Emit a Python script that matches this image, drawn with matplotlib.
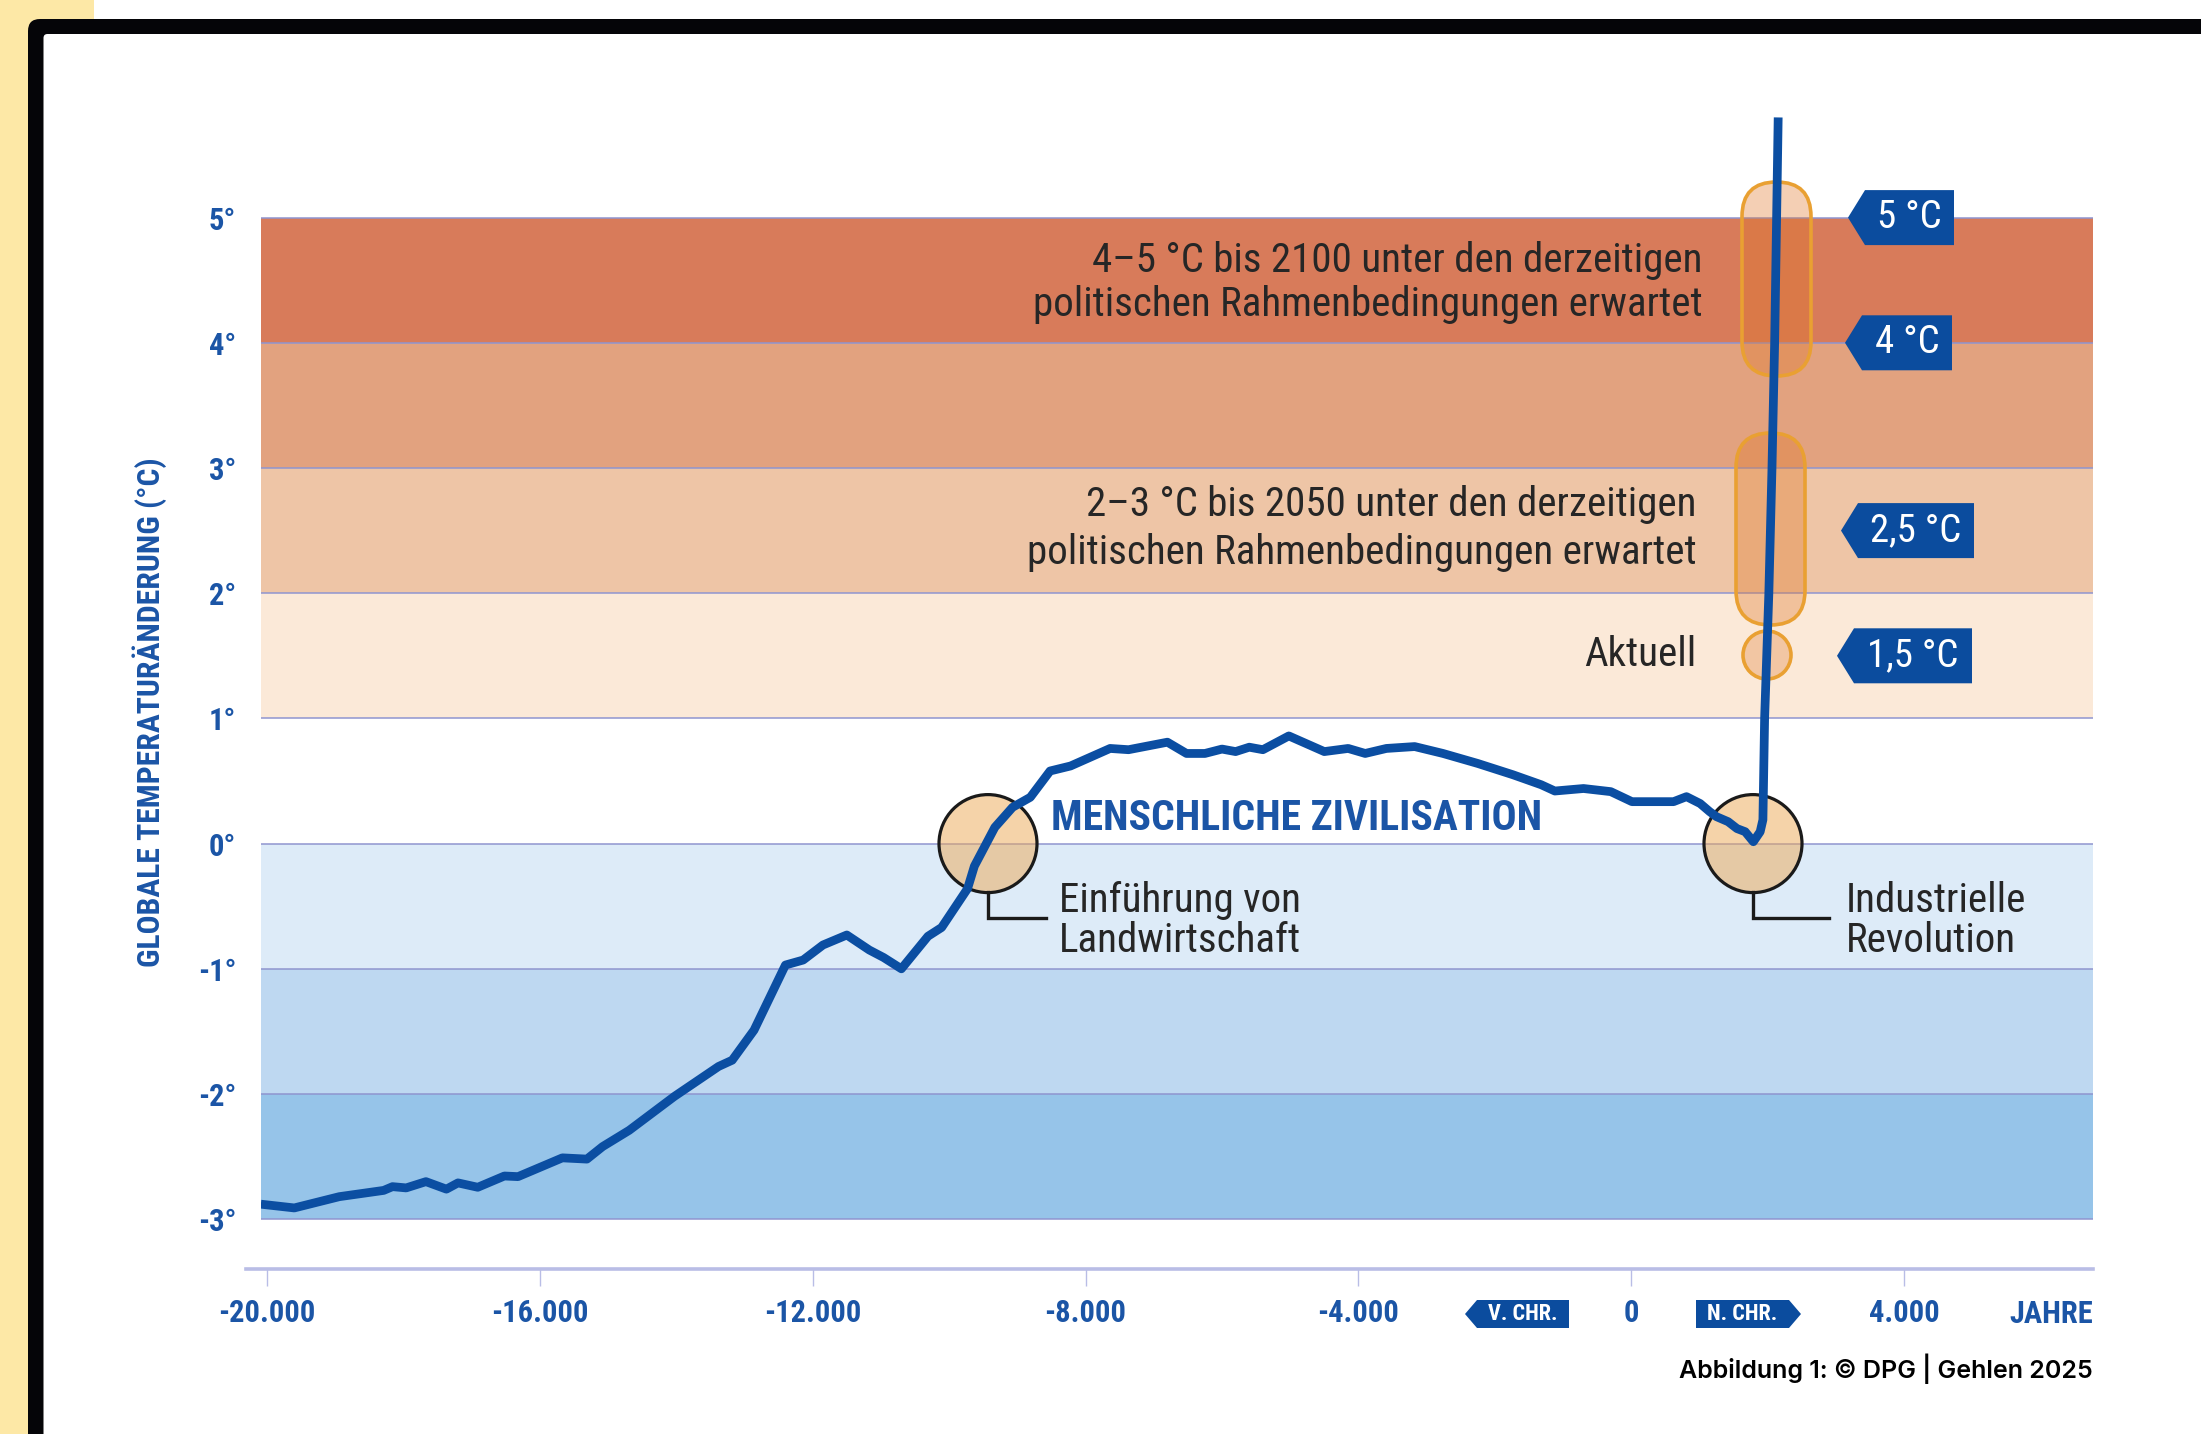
import matplotlib.pyplot as plt
from matplotlib.patches import Ellipse, FancyBboxPatch, Polygon, Rectangle
from matplotlib.transforms import IdentityTransform

COND = ['Roboto Condensed', 'Liberation Sans Narrow', 'Roboto', 'DejaVu Sans']
plt.rcParams['font.family'] = COND

# temperature curve (years, deg C relative to pre-industrial)
years = [-20090, -19600, -18940, -18290, -18160, -17960, -17670, -17370, -17200, -16910,
         -16520, -16320, -15670, -15310, -15080, -14690, -14030, -13380, -13180, -12860,
         -12400, -12140, -11850, -11500, -11170, -10960, -10700, -10310, -10110, -9730,
         -9630, -9330, -9070, -8810, -8520, -8220, -7640, -7370, -6800, -6520,
         -6250, -6000, -5800, -5600, -5400, -5020, -4500, -4150, -3900, -3590,
         -3175, -2760, -2250, -1735, -1320, -1120, -700, -300, 10, 280,
         620, 810, 1010, 1150, 1250, 1420, 1550, 1670, 1790, 1890,
         1930, 1955, 2017, 2063, 2102, 2154]
temps = [-2.88, -2.91, -2.82, -2.77, -2.74, -2.75, -2.70, -2.76, -2.71, -2.745,
         -2.655, -2.66, -2.51, -2.52, -2.42, -2.29, -2.02, -1.78, -1.73, -1.49,
         -0.97, -0.93, -0.81, -0.73, -0.85, -0.91, -1.00, -0.74, -0.67, -0.36,
         -0.18, 0.13, 0.29, 0.37, 0.58, 0.62, 0.76, 0.75, 0.81, 0.72,
         0.72, 0.755, 0.735, 0.77, 0.75, 0.86, 0.735, 0.76, 0.72, 0.76,
         0.775, 0.72, 0.64, 0.55, 0.47, 0.42, 0.44, 0.415, 0.335, 0.335,
         0.335, 0.375, 0.32, 0.255, 0.215, 0.175, 0.12, 0.095, 0.015, 0.095,
         0.19, 1.0, 2.0, 3.0, 4.0, 5.8]

band_edges = [-3, -2, -1, 0, 1, 2, 3, 4, 5]
band_colors = ['#96c4e9', '#bed8f1', '#ddebf8', '#ffffff',
               '#fbe9d8', '#eec5a6', '#e2a27f', '#d87b5a']

ytick_vals = [-3, -2, -1, 0, 1, 2, 3, 4, 5]
ytick_labels = ['-3°', '-2°', '-1°', '0°', '1°', '2°', '3°', '4°', '5°']
xtick_vals = [-20000, -16000, -12000, -8000, -4000, 0, 4000]
xtick_labels = ['-20.000', '-16.000', '-12.000', '-8.000', '-4.000', '0', '4.000']

tag_levels = [5, 4, 2.5, 1.5]
tag_labels = ['5 °C', '4 °C', '2,5 °C', '1,5 °C']

# ---- layout helpers (reference pixel grid -> data) ----
W, H = 2201, 1434
YR0_PX, YR_PER_PX = 267, 14.66
T0_PX, PX_PER_DEG = 843.6, 125.2


def dx(px):
    return -20000 + (px - YR0_PX) * YR_PER_PX


def dy(py):
    return (T0_PX - py) / PX_PER_DEG


def pts(lst):
    return [(dx(a), dy(b)) for a, b in lst]


BLUE = '#1b55a6'
LINE = '#0b4ea2'
TAG = '#0b4c9e'
DARK = '#262626'
ORANGE = '#e9a032'

L, R, T, B = 261, 2093, 104.9, 1269.3

fig = plt.figure(figsize=(W / 100, H / 100), dpi=100)
fig.patch.set_facecolor('white')

# page decoration: yellow strip and black frame
fig.add_artist(Rectangle((0, 0), 94, H, color='#fde8a6', lw=0,
                         transform=IdentityTransform(), zorder=-30))
fig.add_artist(FancyBboxPatch((28, -200), 2500, H - 19 + 200,
                              boxstyle='round,pad=0,rounding_size=12',
                              fc='#050508', ec='none',
                              transform=IdentityTransform(), zorder=-20))
fig.add_artist(FancyBboxPatch((43.5, -200), 2500, H - 34 + 200,
                              boxstyle='round,pad=0,rounding_size=4',
                              fc='white', ec='none',
                              transform=IdentityTransform(), zorder=-10))

ax = fig.add_axes([L / W, 1 - B / H, (R - L) / W, (B - T) / H])
ax.set_xlim(dx(L), dx(R))
ax.set_ylim(dy(B), dy(T))
ax.patch.set_visible(False)
for s in ax.spines.values():
    s.set_visible(False)

# temperature bands
for lo, hi, c in zip(band_edges[:-1], band_edges[1:], band_colors):
    ax.axhspan(lo, hi, color=c, lw=0, zorder=0)
for e in band_edges:
    ax.axhline(e, color='#8f95cf', lw=1.1, zorder=1)

# x axis line
ax.plot([dx(246), dx(R)], [dy(B), dy(B)], color='#b9bde6', lw=2.6,
        clip_on=False, zorder=2)

ax.set_xticks(xtick_vals, xtick_labels)
ax.tick_params(axis='x', length=12, width=1, color='#b9bde6', pad=9,
               labelsize=22, labelcolor=BLUE)
ax.set_yticks(ytick_vals, ytick_labels)
ax.tick_params(axis='y', length=0, pad=18, labelsize=22, labelcolor=BLUE)
for t in ax.get_xticklabels() + ax.get_yticklabels():
    t.set_fontweight('bold')

ax.text(dx(R), dy(1314), 'JAHRE', ha='right', va='center', fontsize=22,
        fontweight='bold', color=BLUE, clip_on=False)

# V. CHR. / N. CHR. markers on the time axis
ax.add_patch(Polygon(pts([(1465, 1314), (1477, 1300), (1569, 1300),
                          (1569, 1328), (1477, 1328)]),
                     fc=TAG, ec='none', clip_on=False, zorder=3))
ax.add_patch(Polygon(pts([(1696, 1300), (1789, 1300), (1801, 1314),
                          (1789, 1328), (1696, 1328)]),
                     fc=TAG, ec='none', clip_on=False, zorder=3))
ax.text(dx(1523), dy(1314), 'V. CHR.', ha='center', va='center',
        fontsize=16, fontweight='bold', color='white', clip_on=False, zorder=4)
ax.text(dx(1742), dy(1314), 'N. CHR.', ha='center', va='center',
        fontsize=16, fontweight='bold', color='white', clip_on=False, zorder=4)

ax.text(dx(150), dy(712), 'GLOBALE TEMPERATURÄNDERUNG (°C)', rotation=90,
        ha='center', va='center', fontsize=22.8, fontweight='bold',
        color=BLUE, clip_on=False)

# orange capsules around the projections
asp = (1 / PX_PER_DEG) / YR_PER_PX
for x0, x1, y0, y1 in [(1742, 1811, 182, 376), (1736, 1805, 433, 625)]:
    r = (x1 - x0) / 2 * YR_PER_PX
    ax.add_patch(FancyBboxPatch((dx(x0), dy(y1)), dx(x1) - dx(x0), dy(y0) - dy(y1),
                                boxstyle=f'round,pad=0,rounding_size={r}',
                                mutation_aspect=asp, fc=(0.88, 0.47, 0.16, 0.35),
                                ec=ORANGE, lw=2.6, zorder=4))
ax.add_patch(Ellipse((dx(1767), dy(655)), 2 * 24 * YR_PER_PX, 2 * 24 / PX_PER_DEG,
                     fc=(0.88, 0.47, 0.16, 0.3), ec=ORANGE, lw=2.6, zorder=4))

# black circles: agriculture and industrial revolution
for cx in [988, 1753]:
    ax.add_patch(Ellipse((dx(cx), 0), 2 * 49 * YR_PER_PX, 2 * 49 / PX_PER_DEG,
                         fc=(0.93, 0.66, 0.33, 0.5), ec='#1a1a1a', lw=2.3, zorder=4))
    ax.plot([dx(cx), dx(cx), dx(cx + 58 + (cx > 1500) * 18)],
            [dy(892), dy(918), dy(918)], color='#1a1a1a', lw=2.4, zorder=4,
            solid_joinstyle='miter')

# the temperature curve
ax.plot(years, temps, color=LINE, lw=6.3, solid_joinstyle='round',
        solid_capstyle='butt', zorder=6)

# temperature tags on the right
for lvl, lab, tip, right in zip(tag_levels, tag_labels,
                                [1848, 1845, 1841, 1837], [1954, 1952, 1974, 1972]):
    yc = T0_PX - lvl * PX_PER_DEG
    ax.add_patch(Polygon(pts([(tip, yc), (tip + 17, yc - 27.5), (right, yc - 27.5),
                              (right, yc + 27.5), (tip + 17, yc + 27.5)]),
                         fc=TAG, ec='none', zorder=5))
    ax.text(dx((tip + 17 + right) / 2), lvl, lab, ha='center', va='center',
            fontsize=28, color='white', zorder=6)

# explanatory texts
txt = dict(ha='right', va='center', fontsize=29.5, color=DARK)
ax.text(dx(1703), dy(260), '4–5 °C bis 2100 unter den derzeitigen', **txt)
ax.text(dx(1703), dy(305), 'politischen Rahmenbedingungen erwartet', **txt)
ax.text(dx(1697), dy(505), '2–3 °C bis 2050 unter den derzeitigen', **txt)
ax.text(dx(1697), dy(552), 'politischen Rahmenbedingungen erwartet', **txt)
ax.text(dx(1696), dy(654), 'Aktuell', **txt)

ax.text(dx(1051), dy(818), 'MENSCHLICHE ZIVILISATION', ha='left', va='center',
        fontsize=30, fontweight='bold', color=BLUE, zorder=5)

lab = dict(ha='left', va='center', fontsize=29.5, color=DARK)
ax.text(dx(1059), dy(900), 'Einführung von', **lab)
ax.text(dx(1059), dy(940), 'Landwirtschaft', **lab)
ax.text(dx(1846), dy(900), 'Industrielle', **lab)
ax.text(dx(1846), dy(940), 'Revolution', **lab)

fig.text(R / W, 1 - 1369 / H, 'Abbildung 1: © DPG | Gehlen 2025', ha='right',
         va='center', fontsize=18, fontweight='semibold', color='black',
         family=['Inter', 'DejaVu Sans'])

fig.savefig('out.png', dpi=100)
